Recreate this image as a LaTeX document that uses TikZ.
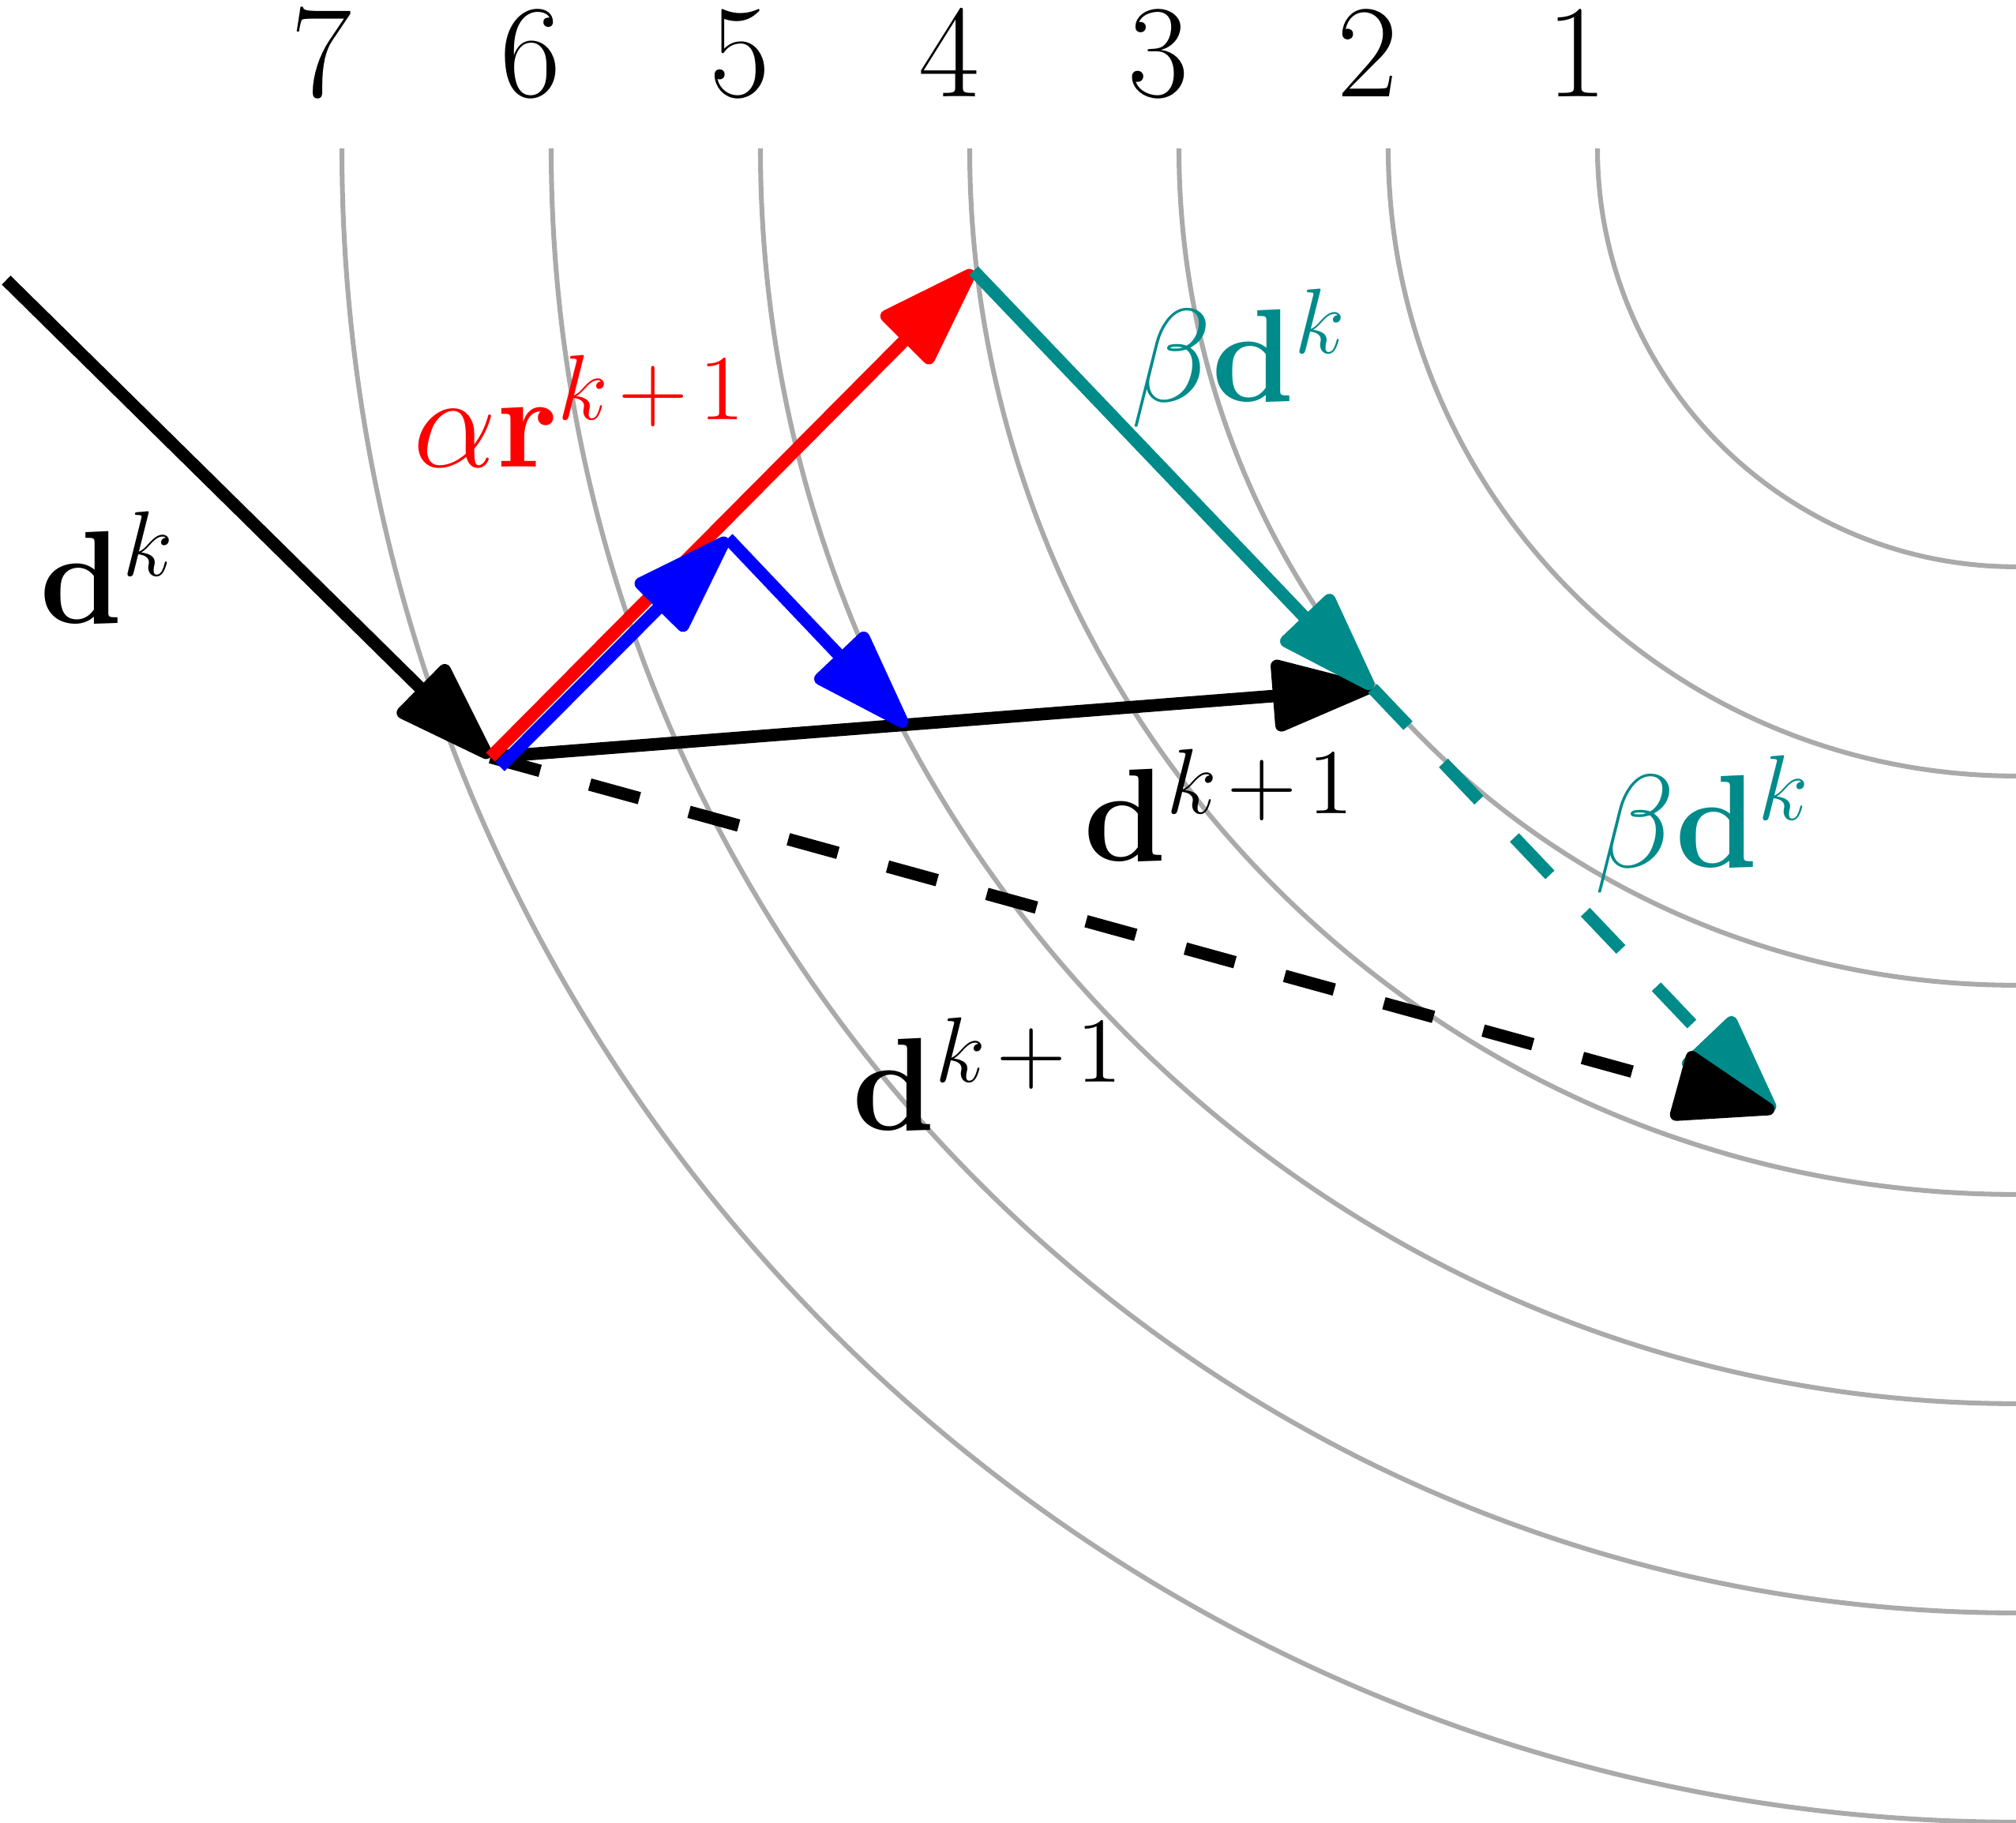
\RequirePackage{fix-cm}
\documentclass[tikz,border=0pt]{standalone}
\usepackage{xcolor}
\usepackage{tikz}
\usetikzlibrary{arrows.meta}
\definecolor{cgTeal}{RGB}{0, 139, 139}
\definecolor{cgRed}{RGB}{255, 0, 0}
\definecolor{cgBlue}{RGB}{0, 0, 255}
\definecolor{levelGray}{RGB}{170, 170, 170}

\begin{document}
\begin{tikzpicture}[
    level/.style={draw=levelGray, line width=0.65pt},
    vec/.style={line width=1.7pt, -{Triangle[length=15.5pt, width=10pt, round]}},
    dashvec/.style={vec, dash pattern=on 7pt off 7pt},
    every node/.style={font=\fontsize{18}{22}\selectfont, inner sep=0pt, anchor=base}
]
\useasboundingbox (-9.634,-8.004) rectangle (0,0.709);
% level sets
\foreach \i in {1,...,7} {
    \draw[level] ({-\i-1},0) arc (180:270:{\i+1});
    \node (lvl\i) at ({-\i-1.1},0.245) {\i};
}
\coordinate (start) at (-9.604,-0.630);
\coordinate (xk) at (-7.29,-2.91);
\coordinate (xr) at (-4.981,-0.585);
\coordinate (xd) at (-3.075,-2.581);
\coordinate (xdd) at (-1.155,-4.600);
\coordinate (bstart) at (-7.244,-2.956);
\coordinate (bmid) at (-6.155,-1.864);
\coordinate (bend) at (-5.302,-2.762);
% vectors
\draw[vec] (start) -- (xk);
\draw[vec] (xk) -- (xd);
\draw[dashvec, cgTeal] (xd) -- (xdd);
\draw[dashvec] (xk) -- (xdd);
\draw[vec, cgRed] (xk) -- (xr);
\draw[vec, cgBlue] (bstart) -- (bmid);
\draw[vec, cgBlue] (bmid) -- (bend);
\draw[vec, cgTeal] (xr) -- (xd);
% labels
\node (dk) at (-9.117,-2.272) {$\mathbf{d}^k$};
\node[text=cgRed] (ar) at (-6.858,-1.525) {$\alpha\mathbf{r}^{k\mkern2mu+\mkern2mu1}$};
\node[text=cgTeal] (bd) at (-3.708,-1.211) {$\beta\mathbf{d}^k$};
\node (dnew) at (-3.802,-3.408) {$\mathbf{d}^{k\mkern2mu+\mkern2mu1}$};
\node[text=cgTeal] (bdd) at (-1.493,-3.438) {$\beta\mathbf{d}^k$};
\node (dnext) at (-4.906,-4.694) {$\mathbf{d}^{k\mkern2mu+\mkern2mu1}$};
\end{tikzpicture}
\end{document}
